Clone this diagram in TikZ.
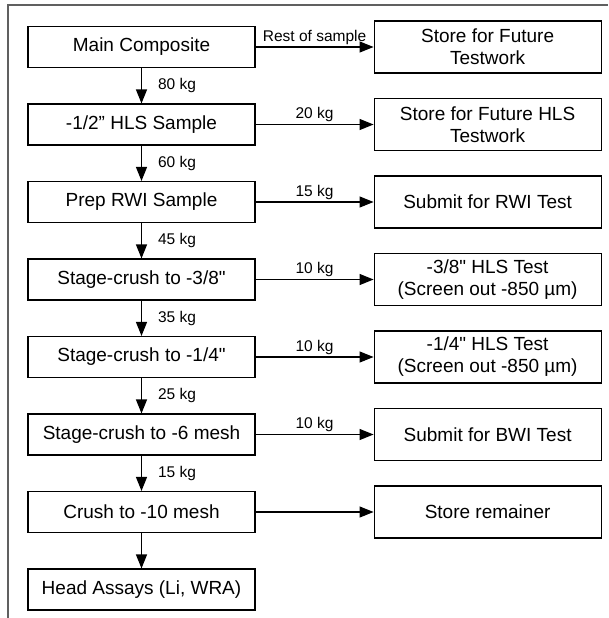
\documentclass[tikz,border=0pt]{standalone}
\usepackage{fontspec}
\setmainfont{Liberation Sans}[Ligatures=TeXOff]
\usepackage{tikz}
\usetikzlibrary{positioning,arrows.meta}
\definecolor{rule}{RGB}{96,96,96}

\begin{document}
\begin{tikzpicture}[x=1pt, y=1pt,
  proc/.style={draw, line width=1.1pt, minimum width=227pt, minimum height=41pt,
               inner sep=2pt, align=center, font=\fontsize{19}{22}\selectfont},
  dest/.style={proc, minimum height=52pt},
  arr/.style={-{Triangle[length=14pt, width=11pt]}, line width=1.1pt},
  qty/.style={font=\fontsize{15.5}{18}\selectfont, inner sep=2pt}]

\useasboundingbox (0,0) rectangle (608,-618);
\draw[rule, line width=1.6pt] (8,-618) -- (8,-5) -- (608,-5);

\node[proc] (main) at (141.5,-47) {Main Composite};
\node[proc, below=35.4pt of main] (hls) {-1/2” HLS Sample};
\node[proc, below=35.4pt of hls] (rwi) {Prep RWI Sample};
\node[proc, below=35.4pt of rwi] (sc38) {Stage-crush to -3/8"};
\node[proc, below=35.4pt of sc38] (sc14) {Stage-crush to -1/4"};
\node[proc, below=35.4pt of sc14] (sc6) {Stage-crush to -6 mesh};
\node[proc, below=35.4pt of sc6] (c10) {Crush to -10 mesh};
\node[proc, below=35.4pt of c10] (head) {Head Assays (Li, WRA)};

\node[dest, right=118pt of main] (store) {Store for Future\\Testwork};
\node[dest, right=118pt of hls] (storehls) {Store for Future HLS\\Testwork};
\node[dest, right=118pt of rwi] (rwitest) {Submit for RWI Test};
\node[dest, right=118pt of sc38] (hls38) {-3/8" HLS Test\\(Screen out -850 µm)};
\node[dest, right=118pt of sc14] (hls14) {-1/4" HLS Test\\(Screen out -850 µm)};
\node[dest, right=118pt of sc6] (bwitest) {Submit for BWI Test};
\node[dest, right=118pt of c10] (remain) {Store remainer};

\draw[arr] (main) -- node[qty, right=14pt]{80 kg} (hls);
\draw[arr] (hls) -- node[qty, right=14pt]{60 kg} (rwi);
\draw[arr] (rwi) -- node[qty, right=14pt]{45 kg} (sc38);
\draw[arr] (sc38) -- node[qty, right=14pt]{35 kg} (sc14);
\draw[arr] (sc14) -- node[qty, right=14pt]{25 kg} (sc6);
\draw[arr] (sc6) -- node[qty, right=14pt]{15 kg} (c10);
\draw[arr] (c10) -- (head);

\draw[arr] (main) -- node[qty, above]{Rest of sample} (store);
\draw[arr] (hls) -- node[qty, above]{20 kg} (storehls);
\draw[arr] (rwi) -- node[qty, above]{15 kg} (rwitest);
\draw[arr] (sc38) -- node[qty, above]{10 kg} (hls38);
\draw[arr] (sc14) -- node[qty, above]{10 kg} (hls14);
\draw[arr] (sc6) -- node[qty, above]{10 kg} (bwitest);
\draw[arr] (c10) -- (remain);
\end{tikzpicture}
\end{document}
